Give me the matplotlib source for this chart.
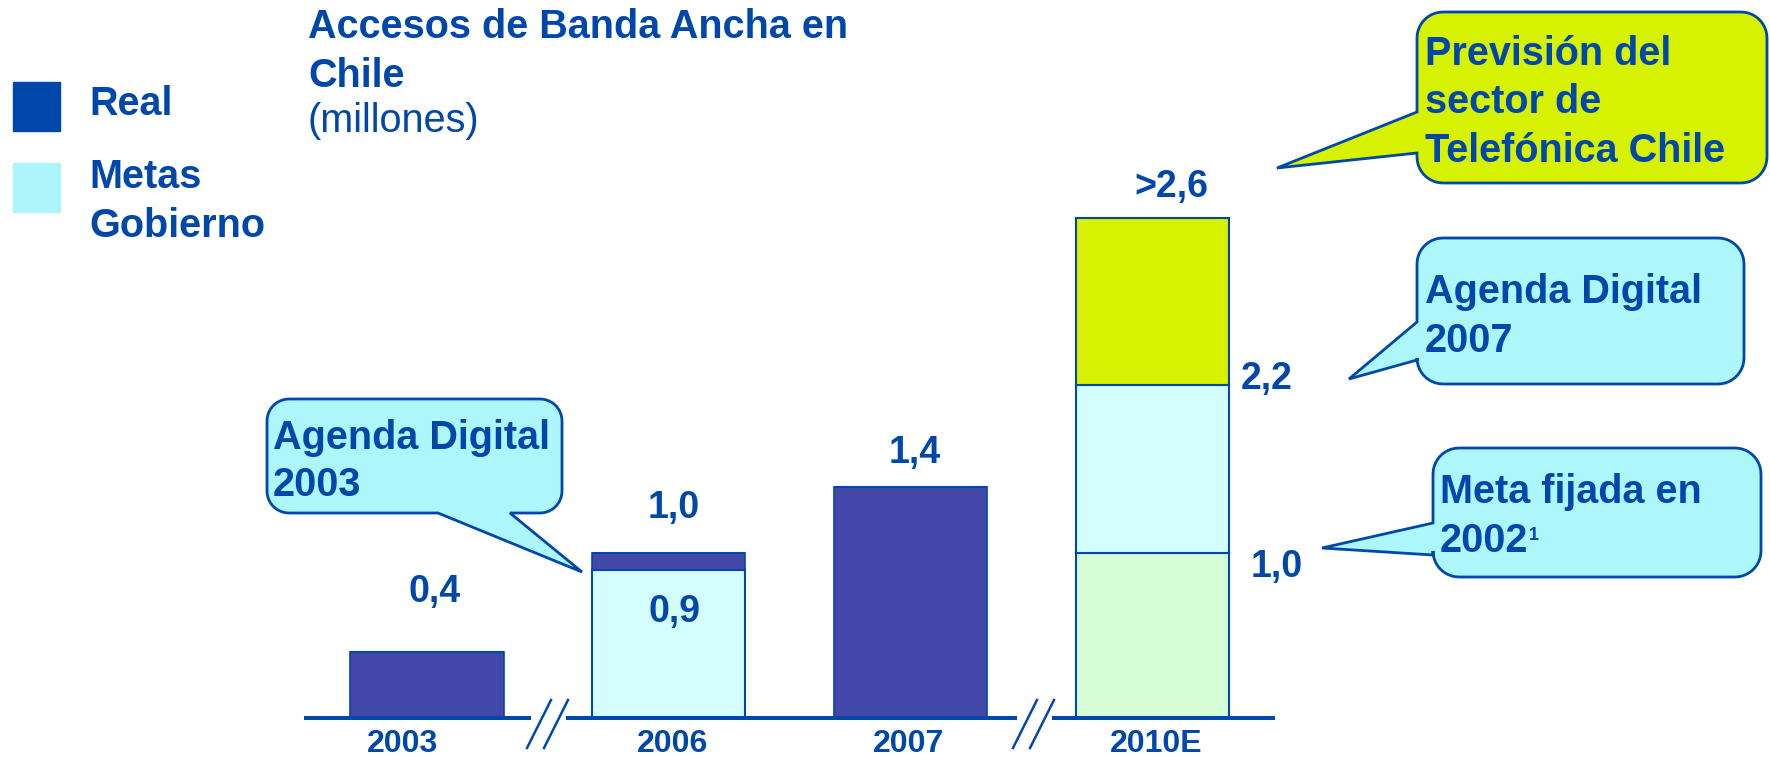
import numpy as np
import matplotlib
matplotlib.use('Agg')
import matplotlib.pyplot as plt
import matplotlib.patches as patches

plt.rcParams['font.family'] = ['Liberation Sans', 'DejaVu Sans']

# data (millions of broadband accesses)
years = ['2003', '2006', '2007', '2010E']
real = [0.4, 0.1, 1.4, 0.0]          # dark segments (2006 sits on top of the 0.9 goal)
meta_gob = [0.0, 0.9, 0.0, 1.02]     # government goal segments (2010E: 1.0 -> 2.2, drawn shorter)
meta_2002 = [0.0, 0.0, 0.0, 1.0]     # goal fixed in 2002
prevision = [0.0, 0.0, 0.0, 1.01]    # Telefonica forecast (>2.6), drawn height
value_labels = ['0,4', '1,0', '0,9', '1,4', '>2,6', '2,2', '1,0']

BLUE = '#0047AB'
DARK = '#4348A8'
CYAN = '#D4FDFE'
GREEN = '#D6FCD6'
YELLOW = '#D7F200'
CALL_CYAN = '#ACF6FC'
W, H = 1770, 757

fig = plt.figure(figsize=(W / 100, H / 100), dpi=100)

# bar axes: index 0 at px 427, 241.8 px per step, baseline at px 718, 165 px per unit
x0, sp, base, ppu = 427, 241.8, 718, 165
ax = fig.add_axes([0, 0, 1, 1])
ax.set_xlim(-x0 / sp, (W - x0) / sp)
ax.set_ylim((base - H) / ppu, base / ppu)
ax.axis('off')

xs = np.arange(len(years))
bw = 0.633
g = np.array(meta_2002)
m = np.array(meta_gob)
r = np.array(real)
p = np.array(prevision)
ax.bar(xs, g, bw, color=GREEN, edgecolor=BLUE, linewidth=1.5)
ax.bar(xs, m, bw, bottom=g, color=CYAN, edgecolor=BLUE, linewidth=1.5)
ax.bar(xs, r, bw, bottom=g + m, color=DARK, edgecolor=BLUE, linewidth=1.2)
ax.bar(xs, p, bw, bottom=g + m + r, color=YELLOW, edgecolor=BLUE, linewidth=1.5)

# overlay in pixel coordinates for text, axis line and callouts
ov = fig.add_axes([0, 0, 1, 1], zorder=5)
ov.set_xlim(0, W)
ov.set_ylim(H, 0)
ov.axis('off')
ov.patch.set_alpha(0)

# baseline with breaks
for a, b in [(304, 531), (566, 1017), (1052, 1275)]:
    ov.plot([a, b], [base, base], color=BLUE, lw=2.9, solid_capstyle='butt')
for c in (548, 1034):
    for d in (3, 20):
        ov.plot([c + d, c + d - 24], [700, 748], color=BLUE, lw=1.8)

def callout(bx0, by0, bx1, by1, side, a, b, tip, fc, rad=22):
    def arc(cx, cy, t0, t1):
        t = np.radians(np.linspace(t0, t1, 12))
        return list(zip(cx + rad * np.cos(t), cy + rad * np.sin(t)))
    pts = []
    pts += arc(bx1 - rad, by0 + rad, -90, 0)
    pts += arc(bx1 - rad, by1 - rad, 0, 90)
    if side == 'bottom':
        pts += [(b, by1), tip, (a, by1)]
    pts += arc(bx0 + rad, by1 - rad, 90, 180)
    if side == 'left':
        pts += [(bx0, b), tip, (bx0, a)]
    pts += arc(bx0 + rad, by0 + rad, 180, 270)
    ov.add_patch(patches.Polygon(pts, closed=True, facecolor=fc, edgecolor=BLUE, lw=2.0))

callout(267, 399, 562, 513, 'bottom', 438, 510, (582, 572), CALL_CYAN)
callout(1417, 12, 1767, 183, 'left', 112, 153, (1277, 168), YELLOW, rad=26)
callout(1417, 238, 1744, 384, 'left', 322, 360, (1349, 379), CALL_CYAN, rad=26)
callout(1433, 448, 1761, 577, 'left', 523, 555, (1322, 548), CALL_CYAN, rad=26)

def txt(x, y, s, size=28.5, weight='bold', ha='left'):
    ov.text(x, y, s, fontsize=size, fontweight=weight, color=BLUE, ha=ha, va='baseline')

# title
txt(308, 38, 'Accesos de Banda Ancha en')
txt(308, 87, 'Chile')
txt(308, 132, '(millones)', weight='normal')

# legend
ov.add_patch(patches.Rectangle((13, 82), 47, 49, color=BLUE))
ov.add_patch(patches.Rectangle((13, 163), 47, 49, color='#ADF5FB'))
txt(89, 115, 'Real')
txt(89, 188, 'Metas')
txt(89, 237, 'Gobierno')

# callout texts
txt(273, 449, 'Agenda Digital')
txt(273, 496, '2003')
txt(1425, 65, 'Previsión del')
txt(1425, 113, 'sector de')
txt(1425, 162, 'Telefónica Chile')
txt(1425, 303, 'Agenda Digital')
txt(1425, 352, '2007')
txt(1440, 503, 'Meta fijada en')
txt(1440, 552, '2002')
txt(1529, 540, '1', size=13)

# value labels
label_pos = [(435, 602, 'center'), (674, 518, 'center'), (674, 622, 'center'),
             (915, 463, 'center'), (1171, 197, 'center'), (1241, 389, 'left'),
             (1251, 577, 'left')]
for (x, y, ha), s in zip(label_pos, value_labels):
    txt(x, y, s, size=27, ha=ha)

# year labels
for x, s in zip([403, 673, 909, 1156], years):
    txt(x, 752, s, size=23, ha='center')

fig.savefig('out.png', dpi=100)
